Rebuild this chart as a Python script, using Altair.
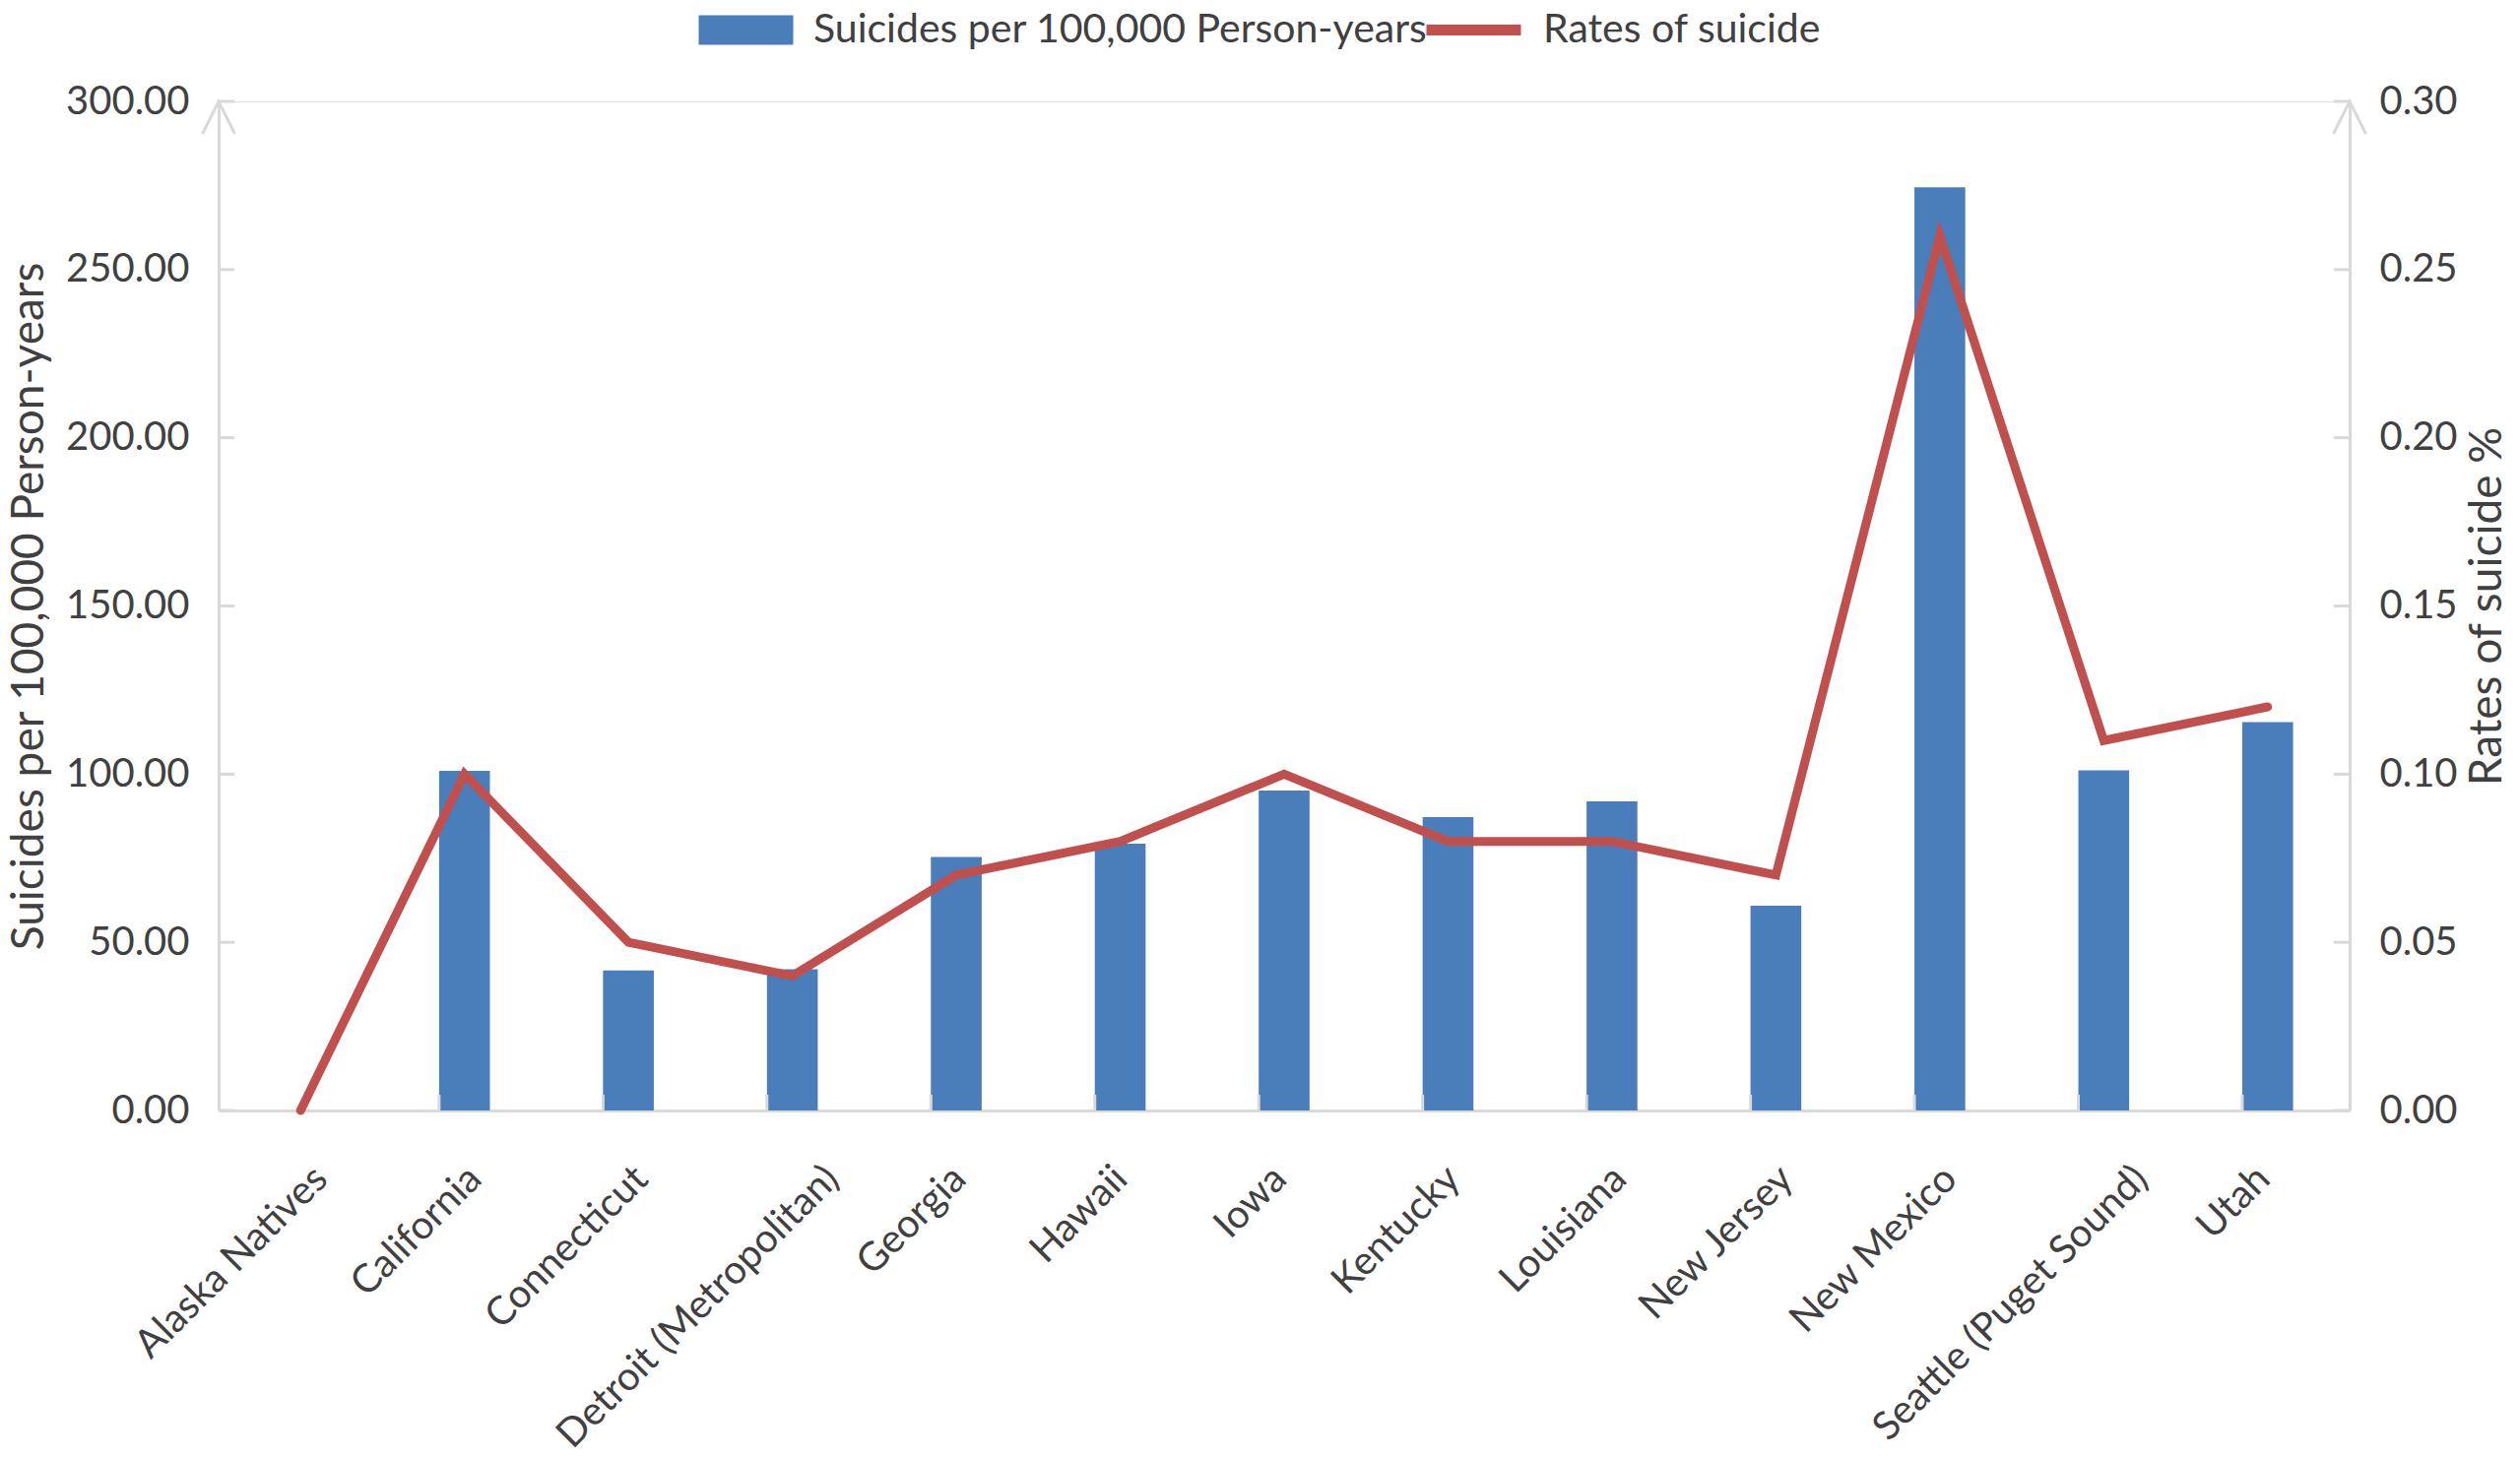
import altair as alt
import pandas as pd

regions = ["Alaska Natives", "California", "Connecticut", "Detroit (Metropolitan)",
           "Georgia", "Hawaii", "Iowa", "Kentucky", "Louisiana", "New Jersey",
           "New Mexico", "Seattle (Puget Sound)", "Utah"]
suicides_per_100k = [0.0, 101.0, 41.6, 42.0, 75.4, 79.3, 95.1, 87.2, 91.9, 60.9, 274.5, 101.1, 115.5]
suicide_rates = [0.00, 0.10, 0.05, 0.04, 0.07, 0.08, 0.10, 0.08, 0.08, 0.07, 0.26, 0.11, 0.12]
left_ticks = [0, 50, 100, 150, 200, 250, 300]
right_ticks = [0.00, 0.05, 0.10, 0.15, 0.20, 0.25, 0.30]

bar_name = "Suicides per 100,000 Person-years"
line_name = "Rates of suicide"

df = pd.DataFrame({"Region": regions, "Suicides": suicides_per_100k, "Rate": suicide_rates,
                   "s1": bar_name, "s2": line_name})
lt = pd.DataFrame({"v": left_ticks})
rt = pd.DataFrame({"v": right_ticks})
xt = pd.DataFrame({"Region": regions[1:]})
topL = pd.DataFrame({"v": [300]})
topR = pd.DataFrame({"v": [0.30]})

W, H = 2164, 1025
FONT = "Lato"
TXT = "#404040"
AX = "#d9d9d9"
BLUE = "#4a7ebb"
RED = "#c0504d"
ARROW = "M-0.5,1L0,0L0.5,1"

xscale = alt.Scale(domain=regions, paddingInner=0.69, paddingOuter=0.345)
xaxis = alt.Axis(title=None, labelAngle=-45, labelAlign="right", labelBaseline="middle",
                 labelFontSize=40, labelColor=TXT, labelFont=FONT, labelPadding=63,
                 labelOffset={"expr": "length(datum.label) * 2.5 - 14"},
                 labelLimit=0, domainColor=AX, domainWidth=3, ticks=False, grid=False)
yL = alt.Scale(domain=[0, 300], nice=False)
yR = alt.Scale(domain=[0, 0.30], nice=False)

bars = alt.Chart(df).mark_bar(color=BLUE).encode(
    x=alt.X("Region:N", scale=xscale, axis=xaxis, sort=regions),
    y=alt.Y("Suicides:Q", scale=yL,
            axis=alt.Axis(values=left_ticks, format=".2f", title=bar_name, grid=False,
                          ticks=False, domainColor=AX, domainWidth=3,
                          labelFontSize=40, labelColor=TXT, labelFont=FONT, labelPadding=30,
                          titleFontSize=46, titleColor=TXT, titleFont=FONT,
                          titleFontWeight="normal", titlePadding=13)),
    fill=alt.Fill("s1:N", scale=alt.Scale(range=[BLUE]),
                  legend=alt.Legend(title=None, orient="none", legendX=515, legendY=-93,
                                    direction="horizontal",
                                    symbolType="M-3.2,-1H3.2V1H-3.2Z",
                                    symbolSize=900, symbolStrokeWidth=0, labelOffset=48,
                                    labelFontSize=41, labelColor=TXT, labelFont=FONT,
                                    labelLimit=0)),
)

lticks = alt.Chart(lt).mark_rule(color=AX, strokeWidth=3).encode(
    y=alt.Y("v:Q", scale=yL), x=alt.value(0), x2=alt.value(16))
xticks = alt.Chart(xt).mark_rule(color=AX, strokeWidth=3).encode(
    x=alt.X("Region:N", scale=xscale, sort=regions, bandPosition=0),
    y=alt.value(H), y2=alt.value(H - 16))
arrowL = alt.Chart(topL).mark_point(shape=ARROW, filled=False, color=AX,
                                    strokeWidth=3, size=4356, opacity=1).encode(
    x=alt.value(0), y=alt.Y("v:Q", scale=yL))

left = alt.layer(bars, lticks, xticks, arrowL)

line = alt.Chart(df).mark_line(strokeWidth=9, strokeCap="round").encode(
    x=alt.X("Region:N", scale=xscale, sort=regions, bandPosition=0.5),
    y=alt.Y("Rate:Q", scale=yR,
            axis=alt.Axis(orient="right", values=right_ticks, format=".2f",
                          title="Rates of suicide %", grid=False, ticks=False,
                          domainColor=AX, domainWidth=3,
                          labelFontSize=40, labelColor=TXT, labelFont=FONT, labelPadding=30,
                          titleFontSize=46, titleColor=TXT, titleFont=FONT,
                          titleFontWeight="normal", titlePadding=8,
                          titleAngle=270, titleBaseline="top")),
    stroke=alt.Stroke("s2:N", scale=alt.Scale(range=[RED]),
                      legend=alt.Legend(title=None, orient="none", legendX=1254, legendY=-93,
                                        direction="horizontal", symbolType="M-3.2,0H3.2",
                                        symbolSize=900, symbolStrokeWidth=11,
                                        labelFontSize=41, labelColor=TXT, labelFont=FONT,
                                        labelOffset=50, labelLimit=0)),
)
rticks = alt.Chart(rt).mark_rule(color=AX, strokeWidth=3).encode(
    y=alt.Y("v:Q", scale=yR), x=alt.value(W - 16), x2=alt.value(W))
arrowR = alt.Chart(topR).mark_point(shape=ARROW, filled=False, color=AX,
                                    strokeWidth=3, size=4356, opacity=1).encode(
    x=alt.value(W), y=alt.Y("v:Q", scale=yR))

right = alt.layer(line, rticks, arrowR)

chart = alt.layer(left, right).resolve_scale(y="independent").properties(
    width=W, height=H,
    autosize=alt.AutoSizeParams(type="none"),
    padding={"left": 214, "top": 95, "right": 165, "bottom": 353},
).configure_view(stroke="transparent", strokeWidth=0).configure(background="white")

chart.save("out.html", embed_options={"renderer": "svg", "actions": False})
